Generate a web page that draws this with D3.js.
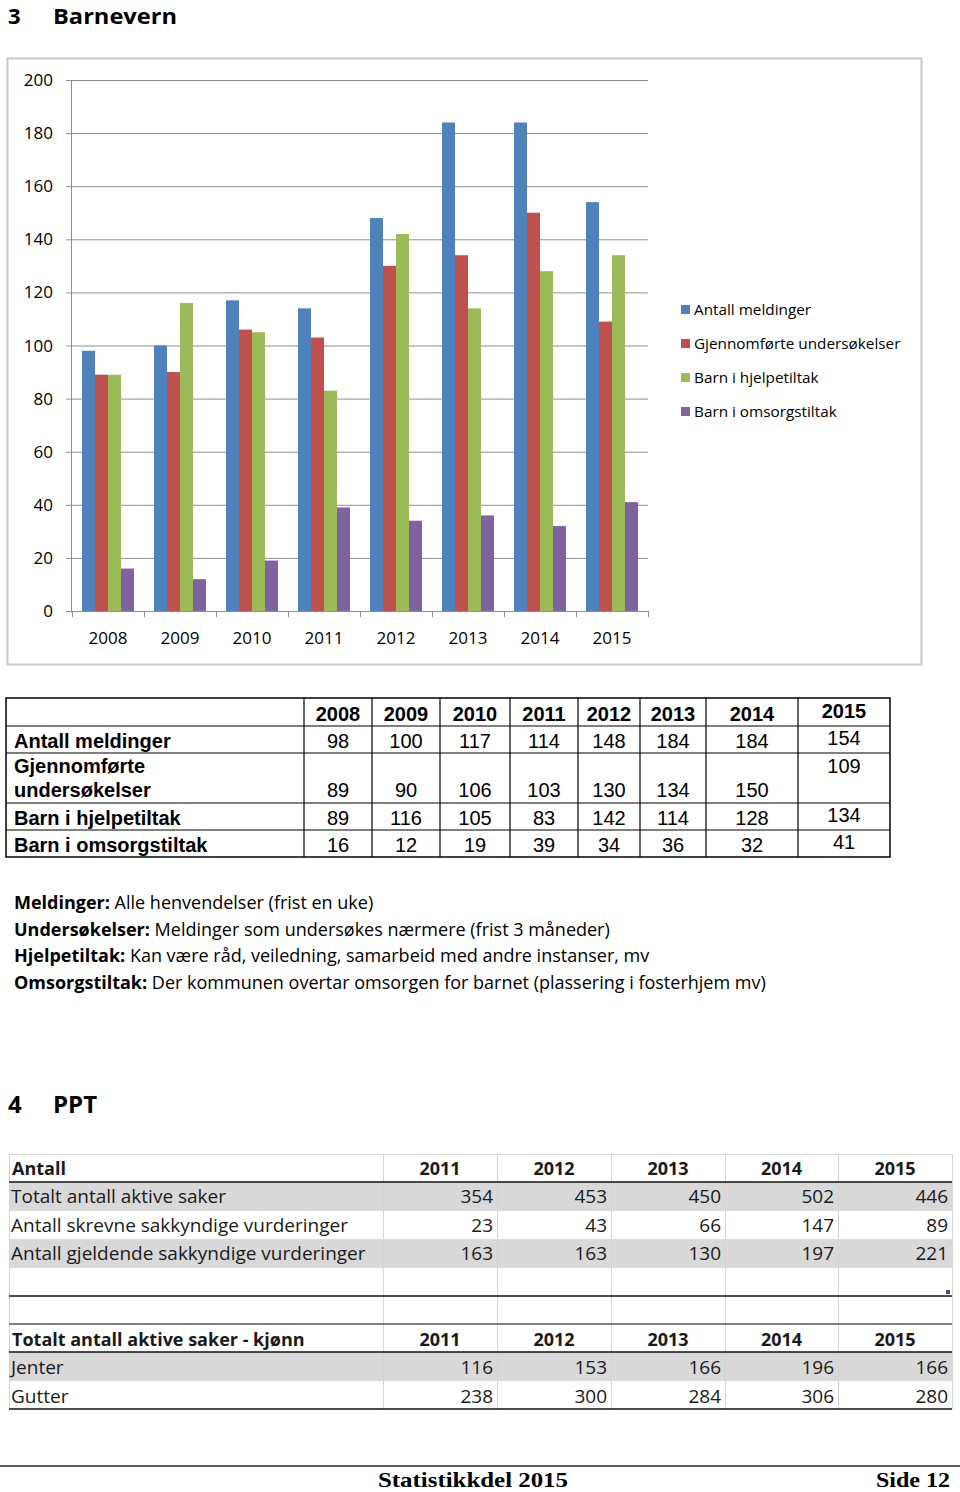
<!DOCTYPE html>
<html><head><meta charset="utf-8">
<script src="https://cdn.jsdelivr.net/npm/d3@7"></script>
<style>
html,body{margin:0;padding:0;background:#fff;}
svg{display:block;}
</style></head>
<body>
<script>
// ---- Data ----
const years = ["2008","2009","2010","2011","2012","2013","2014","2015"];
const seriesNames = ["Antall meldinger","Gjennomførte undersøkelser","Barn i hjelpetiltak","Barn i omsorgstiltak"];
const meldinger = [98,100,117,114,148,184,184,154];
const undersokelser = [89,90,106,103,130,134,150,109];
const hjelpetiltak = [89,116,105,83,142,114,128,134];
const omsorgstiltak = [16,12,19,39,34,36,32,41];
const yTicks = [0,20,40,60,80,100,120,140,160,180,200];
const colors = ["#4F81BD","#C0504D","#9BBB59","#8064A2"];

const tableRowLabels = [["Antall meldinger"],["Gjennomførte","undersøkelser"],["Barn i hjelpetiltak"],["Barn i omsorgstiltak"]];

const notes = [
  ["Meldinger:"," Alle henvendelser (frist en uke)"],
  ["Undersøkelser:"," Meldinger som undersøkes nærmere (frist 3 måneder)"],
  ["Hjelpetiltak:"," Kan være råd, veiledning, samarbeid med andre instanser, mv"],
  ["Omsorgstiltak:"," Der kommunen overtar omsorgen for barnet (plassering i fosterhjem mv)"]
];

const pptYears = ["2011","2012","2013","2014","2015"];
const pptLabels = ["Totalt antall aktive saker","Antall skrevne sakkyndige vurderinger","Antall gjeldende sakkyndige vurderinger"];
const pptTotalt = [354,453,450,502,446];
const pptSkrevne = [23,43,66,147,89];
const pptGjeldende = [163,163,130,197,221];
const kjonnLabels = ["Jenter","Gutter"];
const jenter = [116,153,166,196,166];
const gutter = [238,300,284,306,280];

const series = [meldinger,undersokelser,hjelpetiltak,omsorgstiltak];

const svg = d3.select("body").append("svg").attr("width",960).attr("height",1492);
const sans = "'Open Sans', 'Noto Sans', sans-serif";
const arial = "'Liberation Sans', Arial, sans-serif";

// Title
const t1 = svg.append("text").attr("y",24).attr("font-family",sans).attr("font-weight","bold").attr("font-size",22).attr("fill","#000");
t1.append("tspan").attr("x",8).text("3");
t1.append("tspan").attr("x",53).attr("textLength",124).attr("lengthAdjust","spacingAndGlyphs").text("Barnevern");

// Chart frame
svg.append("rect").attr("x",7.5).attr("y",58.5).attr("width",914).attr("height",606).attr("fill","#fff").attr("stroke","#c8c8c8").attr("stroke-width",2);

const x0 = d3.scaleBand().domain(years).range([72,648]).paddingInner(20/72).paddingOuter(10/72);
const x1 = d3.scaleBand().domain(d3.range(4)).range([0,x0.bandwidth()]);
const y = d3.scaleLinear().domain([0,200]).range([611,80]);

const g = svg.append("g");
g.selectAll("line.grid").data(yTicks).join("line")
  .attr("x1",66).attr("x2",648).attr("y1",d=>y(d)+0.5).attr("y2",d=>y(d)+0.5)
  .attr("stroke","#8c8c8c").attr("stroke-width",1);
g.selectAll("text.yl").data(yTicks).join("text")
  .attr("x",53).attr("y",d=>y(d)+6).attr("text-anchor","end")
  .attr("font-family",sans).attr("font-size",17).attr("fill","#000").text(d=>d);
g.append("line").attr("x1",71.5).attr("x2",71.5).attr("y1",80).attr("y2",611).attr("stroke","#8c8c8c");

years.forEach((yr,i)=>{
  series.forEach((s,j)=>{
    g.append("rect").attr("x",x0(yr)+x1(j)).attr("width",x1.bandwidth())
      .attr("y",y(s[i])).attr("height",y(0)-y(s[i])).attr("fill",colors[j]);
  });
});
const xa = svg.append("g").attr("transform","translate(0,611)")
  .call(d3.axisBottom(x0).tickSize(0).tickPadding(21));
xa.select(".domain").attr("stroke","#8c8c8c").attr("d","M66,0.5H648");
xa.selectAll("text").attr("font-family",sans).attr("font-size",17).attr("fill","#000");
const bounds = years.map(yv=>x0(yv)-x0.step()*x0.paddingOuter()).concat([648]);
svg.selectAll("line.xt").data(bounds).join("line")
  .attr("x1",d=>d+0.5).attr("x2",d=>d+0.5).attr("y1",611).attr("y2",617).attr("stroke","#8c8c8c");

const lg = svg.append("g");
seriesNames.forEach((n,j)=>{
  const ly = 310 + j*34;
  lg.append("rect").attr("x",681).attr("y",ly-5).attr("width",9).attr("height",9).attr("fill",colors[j]);
  lg.append("text").attr("x",694).attr("y",ly+5).attr("font-family",sans).attr("font-size",15.3).attr("fill","#000").text(n);
});

// ---- Table 1 ----
const colX = [6,304,372,440,510,578,640,706,798,890];
const rowY = [698,726,753,803,830,857];
const tb = svg.append("g");
tb.append("rect").attr("x",6).attr("y",698).attr("width",884).attr("height",159).attr("fill","none").attr("stroke","#000").attr("stroke-width",1.5);
colX.slice(1,-1).forEach(cx=>tb.append("line").attr("x1",cx).attr("x2",cx).attr("y1",698).attr("y2",857).attr("stroke","#000").attr("stroke-width",1.2));
rowY.slice(1,-1).forEach(ry=>tb.append("line").attr("x1",6).attr("x2",890).attr("y1",ry).attr("y2",ry).attr("stroke","#000").attr("stroke-width",1.2));
years.forEach((yr,i)=>{
  tb.append("text").attr("x",(colX[i+1]+colX[i+2])/2).attr("y",i===7?718:721).attr("text-anchor","middle")
    .attr("font-family",arial).attr("font-weight","bold").attr("font-size",20).text(yr);
});
const rowBase = [748,797,825,852];
tableRowLabels.forEach((lab,r)=>{
  lab.forEach((l,k)=>{
    tb.append("text").attr("x",14).attr("y",lab.length>1?(773+k*24):rowBase[r]).attr("font-family",arial).attr("font-weight","bold").attr("font-size",20).text(l);
  });
  series[r].forEach((v,i)=>{
    let by = rowBase[r];
    if(i===7) by = (r===1)?773:rowBase[r]-3;
    tb.append("text").attr("x",(colX[i+1]+colX[i+2])/2).attr("y",by).attr("text-anchor","middle")
      .attr("font-family",arial).attr("font-size",20).text(v);
  });
});

// notes
notes.forEach((n,i)=>{
  const t = svg.append("text").attr("x",14).attr("y",909+i*26.5).attr("font-family",sans).attr("font-size",18).attr("fill","#000");
  t.append("tspan").attr("font-weight","bold").text(n[0]);
  t.append("tspan").text(n[1]);
});

const t2 = svg.append("text").attr("y",1113).attr("font-family",sans).attr("font-weight","bold").attr("font-size",24).attr("fill","#000");
t2.append("tspan").attr("x",8).text("4");
t2.append("tspan").attr("x",53).text("PPT");

// ---- PPT table ----
const pc = [9,383,497,611,725,838,952];
const pr = [1154,1182,1211,1239,1268,1296,1324,1352,1381,1409];
const pg = svg.append("g");
const grayRows = [1,3,7];
grayRows.forEach(r=>pg.append("rect").attr("x",9).attr("y",pr[r]).attr("width",943).attr("height",pr[r+1]-pr[r]).attr("fill","#d9d9d9"));
pc.forEach(cx=>pg.append("line").attr("x1",cx+0.5).attr("x2",cx+0.5).attr("y1",1154).attr("y2",1409).attr("stroke","#d4d4d4"));
pg.append("line").attr("x1",9).attr("x2",952).attr("y1",1154.5).attr("y2",1154.5).attr("stroke","#d4d4d4");
[1182,1296,1324,1352,1409].forEach(ry=>pg.append("line").attr("x1",9).attr("x2",952).attr("y1",ry).attr("y2",ry).attr("stroke",ry===1324?"#555":"#111").attr("stroke-width",1.6));
const ptxt = (x,yy,txt,anchor,bold)=>pg.append("text").attr("x",x).attr("y",yy).attr("text-anchor",anchor)
  .attr("font-family",sans).attr("font-size",bold?18:19).attr("font-weight",bold?"bold":"normal").attr("fill","#1a1a1a").text(txt);
ptxt(12,1175,"Antall","start",true);
pptYears.forEach((yy,i)=>ptxt((pc[i+1]+pc[i+2])/2,1175,yy,"middle",true));
[pptTotalt,pptSkrevne,pptGjeldende].forEach((arr,r)=>{
  const by = 1203 + r*28.5;
  ptxt(11,by,pptLabels[r],"start",false);
  arr.forEach((v,i)=>ptxt(pc[i+2]-4,by,v,"end",false));
});
ptxt(12,1346,"Totalt antall aktive saker - kjønn","start",true);
pptYears.forEach((yy,i)=>ptxt((pc[i+1]+pc[i+2])/2,1346,yy,"middle",true));
[jenter,gutter].forEach((arr,r)=>{
  const by = 1374 + r*28.5;
  ptxt(11,by,kjonnLabels[r],"start",false);
  arr.forEach((v,i)=>ptxt(pc[i+2]-4,by,v,"end",false));
});
pg.append("rect").attr("x",946).attr("y",1290).attr("width",4).attr("height",4).attr("fill","#4a4a8a");

// footer
svg.append("line").attr("x1",0).attr("x2",960).attr("y1",1466).attr("y2",1466).attr("stroke","#222").attr("stroke-width",1.5);
svg.append("text").attr("x",378).attr("y",1487).attr("font-family","'Liberation Serif', 'Times New Roman', serif").attr("font-weight","bold").attr("font-size",22)
  .attr("textLength",190).attr("lengthAdjust","spacingAndGlyphs").text("Statistikkdel 2015");
svg.append("text").attr("x",876).attr("y",1487).attr("font-family","'Liberation Serif', 'Times New Roman', serif").attr("font-weight","bold").attr("font-size",22)
  .attr("textLength",74).attr("lengthAdjust","spacingAndGlyphs").text("Side 12");
</script>
</body></html>
